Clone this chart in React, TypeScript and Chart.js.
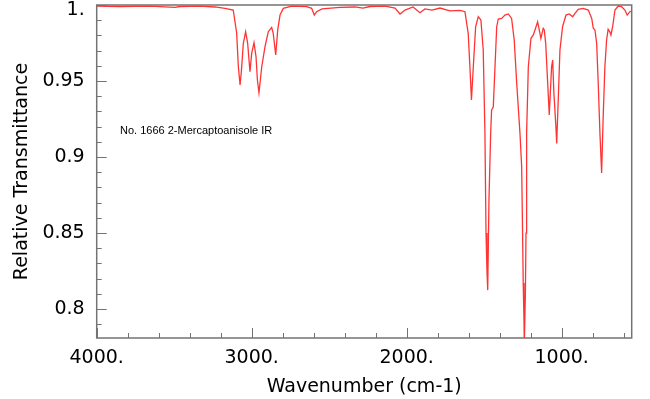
import React, { useEffect, useRef } from "react";
import { Chart, registerables } from "chart.js";

Chart.register(...registerables);

const wavenumbers = [4000,3850,3656,3495,3463,3334,3237,3172,3119,3097,3086,3075,3066,3054,3039,3026,3011,3000,2985,2972,2963,2953,2935,2914,2893,2871,2861,2845,2832,2817,2796,2742,2645,2613,2596,2581,2546,2430,2334,2282,2237,2140,2075,2043,2011,1959,1914,1882,1837,1785,1721,1656,1624,1603,1592,1582,1570,1555,1538,1521,1506,1495,1488,1482,1477,1469,1458,1452,1441,1430,1419,1409,1387,1366,1344,1323,1306,1290,1269,1258,1252,1248,1243,1241,1234,1230,1226,1215,1198,1183,1172,1155,1140,1134,1119,1112,1103,1090,1080,1065,1058,1050,1037,1032,1022,1011,994,972,951,929,914,893,861,828,806,796,785,774,764,753,742,732,721,710,700,689,682,671,656,635,613,592,577,560,549];

const transmittance = [0.9993,0.999,0.9993,0.9984,0.999,0.9993,0.9987,0.9978,0.9967,0.9816,0.9594,0.9474,0.957,0.9748,0.9824,0.9748,0.9561,0.9682,0.9752,0.966,0.9507,0.9423,0.9594,0.9726,0.9824,0.9853,0.9814,0.9671,0.9836,0.9934,0.9978,0.9993,0.9989,0.9978,0.9934,0.9956,0.9974,0.9984,0.9987,0.998,0.999,0.9993,0.998,0.9941,0.9967,0.9987,0.9949,0.9974,0.9967,0.998,0.9962,0.9965,0.9956,0.9814,0.9594,0.9375,0.9594,0.9857,0.9923,0.9901,0.9704,0.9158,0.85,0.8257,0.8125,0.8717,0.9158,0.9309,0.9331,0.9594,0.9857,0.9908,0.9912,0.9934,0.9941,0.9912,0.977,0.9485,0.9158,0.8936,0.85,0.8171,0.7928,0.7763,0.8105,0.85,0.9158,0.9594,0.9781,0.9803,0.9836,0.989,0.9814,0.9781,0.9847,0.9836,0.9748,0.9485,0.9276,0.9594,0.9638,0.9419,0.9199,0.909,0.9375,0.9704,0.9857,0.9934,0.9941,0.9923,0.9945,0.9972,0.9978,0.9967,0.9912,0.9847,0.9836,0.9748,0.9485,0.9156,0.8895,0.9265,0.9594,0.977,0.984,0.9824,0.9803,0.9857,0.9967,0.9993,0.9989,0.9967,0.9934,0.9956,0.996];

const xMajorTicks = [4000, 3000, 2000, 1000];
const xMinorTicks = [3800,3600,3400,3200,2800,2600,2400,2200,1800,1600,1400,1200,800,600];
const yMajorTicks = [0.8, 0.85, 0.9, 0.95, 1.0];
const yMinorTicks = [0.79,0.81,0.82,0.83,0.84,0.86,0.87,0.88,0.89,0.91,0.92,0.93,0.94,0.96,0.97,0.98,0.99];

const X_MIN = 548;
const X_MAX = 4000;
const Y_MIN = 0.781;
const Y_MAX = 1.0;

const annotationText = "No. 1666 2-Mercaptoanisole IR";
const xTitle = "Wavenumber (cm-1)";
const yTitle = "Relative Transmittance";
const topYLabel = "1.";

const frameColor = "#737373";
const fontFamily = "'DejaVu Sans'";

const framePlugin = {
  id: "framePlugin",
  afterDraw(chart: any) {
    const ctx = chart.ctx;
    const { left, right, top, bottom } = chart.chartArea;
    const xs = chart.scales.x;
    const ys = chart.scales.y;
    ctx.save();
    ctx.strokeStyle = frameColor;
    ctx.lineWidth = 1.5;
    ctx.strokeRect(left, top, right - left, bottom - top);
    ctx.lineWidth = 1;
    ctx.beginPath();
    xMajorTicks.forEach((v) => {
      const px = Math.round(xs.getPixelForValue(v)) + 0.5;
      ctx.moveTo(px, bottom);
      ctx.lineTo(px, bottom - 10);
    });
    xMinorTicks.forEach((v) => {
      const px = Math.round(xs.getPixelForValue(v)) + 0.5;
      ctx.moveTo(px, bottom);
      ctx.lineTo(px, bottom - 5);
    });
    yMajorTicks.forEach((v) => {
      const py = Math.round(ys.getPixelForValue(v)) + 0.5;
      ctx.moveTo(left, py);
      ctx.lineTo(left + 10, py);
    });
    yMinorTicks.forEach((v) => {
      const py = Math.round(ys.getPixelForValue(v)) + 0.5;
      ctx.moveTo(left, py);
      ctx.lineTo(left + 5, py);
    });
    ctx.stroke();
    ctx.fillStyle = "#000";
    // top y label drawn shifted down so it stays inside the canvas
    ctx.font = `19px ${fontFamily}`;
    ctx.textAlign = "right";
    ctx.textBaseline = "middle";
    ctx.fillText(topYLabel, left - 12, ys.getPixelForValue(1.0) + 5);
    ctx.font = "11px 'Liberation Sans'";
    ctx.textBaseline = "middle";
    ctx.textAlign = "left";
    ctx.fillText(annotationText, 120, 131);
    ctx.restore();
  },
};

export default function App() {
  const ref = useRef<HTMLCanvasElement>(null);
  useEffect(() => {
    if (!ref.current) return;
    const points = wavenumbers.map((w, i) => ({ x: w, y: transmittance[i] }));
    const chart = new Chart(ref.current, {
      type: "line",
      data: {
        datasets: [
          {
            data: points,
            borderColor: "rgba(255,0,0,0.8)",
            borderWidth: 1.3,
            pointRadius: 0,
            tension: 0,
            fill: false,
          },
        ],
      },
      options: {
        animation: false,
        responsive: false,
        events: [],
        layout: { padding: { top: 5, right: 18.3, left: 0, bottom: 0 } },
        plugins: { legend: { display: false }, tooltip: { enabled: false } },
        scales: {
          x: {
            type: "linear",
            reverse: true,
            min: X_MIN,
            max: X_MAX,
            grid: { display: false, drawTicks: false },
            border: { display: false },
            afterFit: (s: any) => {
              s.height = 61;
              s.paddingLeft = 0;
              s.paddingRight = 0;
            },
            afterBuildTicks: (s: any) => { s.ticks = xMajorTicks.map((v) => ({ value: v })); },
            ticks: {
              autoSkip: false,
              maxRotation: 0,
              padding: 9,
              color: "#000",
              font: { family: fontFamily, size: 19 },
              callback: (v: any) => String(v) + ".",
            },
            title: {
              display: true,
              text: xTitle,
              color: "#000",
              font: { family: fontFamily, size: 19 },
              padding: { top: 0, bottom: 1 },
            },
          },
          y: {
            type: "linear",
            min: Y_MIN,
            max: Y_MAX,
            grid: { display: false, drawTicks: false },
            border: { display: false },
            afterFit: (s: any) => {
              s.width = 96.7;
              s.paddingTop = 0;
              s.paddingBottom = 0;
            },
            afterBuildTicks: (s: any) => { s.ticks = yMajorTicks.map((v) => ({ value: v })); },
            ticks: {
              autoSkip: false,
              padding: 12,
              color: "#000",
              font: { family: fontFamily, size: 19 },
              callback: (v: any) => (v === 1 ? "" : String(v)),
            },
            title: {
              display: true,
              text: yTitle,
              color: "#000",
              font: { family: fontFamily, size: 19 },
              padding: { top: 11, bottom: 0 },
            },
          },
        },
      },
      plugins: [framePlugin],
    });
    return () => chart.destroy();
  }, []);
  return (
    <div style={{ position: "fixed", left: 0, top: 0, width: 650, height: 399, background: "#fff" }}>
      <canvas ref={ref} width={650} height={399} />
    </div>
  );
}
